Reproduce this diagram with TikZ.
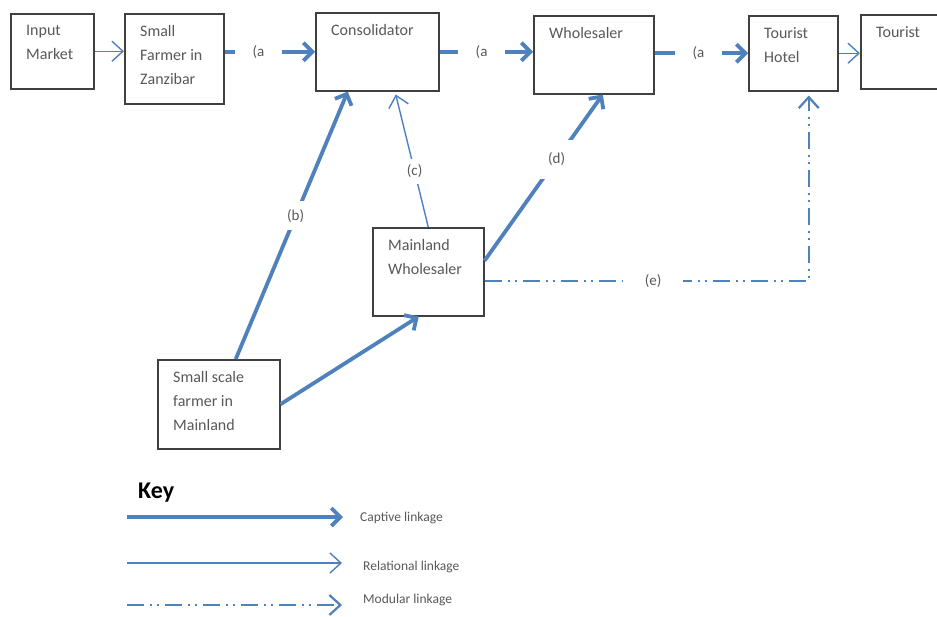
\documentclass[tikz,border=0pt]{standalone}
\usepackage{fontspec}
\setmainfont{Carlito}
\usetikzlibrary{arrows.meta}

\begin{document}
\begin{tikzpicture}[x=1pt,y=-1pt,
  box/.style={draw=boxColor, line width=1.5pt, fill=white, anchor=north west, inner sep=0pt},
  boxtext/.style={anchor=north west, text=textColor, font=\fontsize{16}{24}\selectfont, align=left, inner xsep=16pt, inner ysep=12pt},
  tag/.style={text=textColor, font=\fontsize{15}{17}\selectfont, fill=white, inner xsep=18pt, inner ysep=3pt},
  keytext/.style={anchor=west, text=textColor, font=\fontsize{13.5}{16}\selectfont, inner ysep=0pt},
  captive/.style={draw=linkColor, line width=3.8pt, -{Straight Barb[length=9pt,width=18pt]}},
  relational/.style={draw=linkColor, line width=1.4pt, -{Straight Barb[length=11pt,width=20pt]}},
  modular/.style={draw=linkColor, line width=2.2pt, dash pattern=on 17pt off 6pt on 2pt off 5pt on 2pt off 6pt, -{Straight Barb[length=11pt,width=20pt]}}]
\definecolor{fillColor}{RGB}{255,255,255}
\definecolor{boxColor}{RGB}{64,64,64}
\definecolor{textColor}{RGB}{89,89,89}
\definecolor{linkColor}{RGB}{79,129,189}
\path[use as bounding box,fill=fillColor] (0,0) rectangle (937,616);

\node[box, minimum width=83, minimum height=75, label={[boxtext]north west:Input\\Market}] (input) at (10,13) {};
\node[box, minimum width=99, minimum height=90, label={[boxtext]north west:Small\\Farmer in\\Zanzibar}] (farmer) at (124,13) {};
\node[box, minimum width=123, minimum height=78, label={[boxtext]north west:Consolidator}] (consol) at (315,12) {};
\node[box, minimum width=120, minimum height=78, label={[boxtext]north west:Wholesaler}] (whole) at (533,15) {};
\node[box, minimum width=89, minimum height=75, label={[boxtext]north west:Tourist\\Hotel}] (hotel) at (748,15) {};
\node[box, minimum width=90, minimum height=74, label={[boxtext]north west:Tourist}] (tourist) at (860,14) {};
\node[box, minimum width=111, minimum height=88, label={[boxtext]north west:Mainland\\Wholesaler}] (mainland) at (372,227) {};
\node[box, minimum width=122, minimum height=89, label={[boxtext]north west:Small scale\\farmer in\\Mainland}] (small) at (157,359) {};

\draw[relational] (input.east) -- (input.east -| farmer.west);
\draw[captive] (farmer.east |- consol.west) -- node[tag,pos=0.375]{(a} (consol.west);
\draw[captive] (consol.east) -- node[tag,pos=0.45]{(a} (whole.west |- consol.east);
\draw[captive] (whole.east |- hotel.west) -- node[tag,pos=0.47]{(a} (hotel.west);
\draw[relational] (hotel.east) -- (hotel.east -| tourist.west);

\draw[captive] ([xshift=17pt]small.north) -- node[tag,pos=0.535,inner ysep=8pt]{(b)} ([xshift=-29.5pt]consol.south);
\draw[relational] (mainland.north) -- node[tag,pos=0.42,inner ysep=6pt]{(c)} ([xshift=18.5pt,yshift=-3pt]consol.south);
\draw[captive] ([yshift=11pt]mainland.east) -- node[tag,pos=0.61,inner ysep=13pt]{(d)} ([xshift=9pt]whole.south);
\draw[modular] ([yshift=-9pt]mainland.east) -| node[tag,pos=0.26,inner xsep=22pt]{(e)} ([xshift=15.5pt,yshift=-4pt]hotel.south);
\draw[captive] (small.east) -- ([xshift=-9.5pt]mainland.south);

\node[anchor=west, inner sep=0pt, font=\fontsize{24}{28}\selectfont\bfseries] (key) at (138,493) {Key};
\coordinate (k1) at (127,517);
\node[keytext, inner xsep=17pt] (captxt) at (343,518) {Captive linkage};
\draw[captive] (k1) -- (k1 -| captxt.west);
\coordinate (k2) at (127,563);
\node[keytext, inner xsep=21pt] (reltxt) at (342,567) {Relational linkage};
\draw[relational] (k2) -- (k2 -| reltxt.west);
\coordinate (k3) at (127,605);
\node[keytext, inner xsep=21pt] (modtxt) at (342,600) {Modular linkage};
\draw[modular] (k3) -- (k3 -| modtxt.west);
\end{tikzpicture}
\end{document}
